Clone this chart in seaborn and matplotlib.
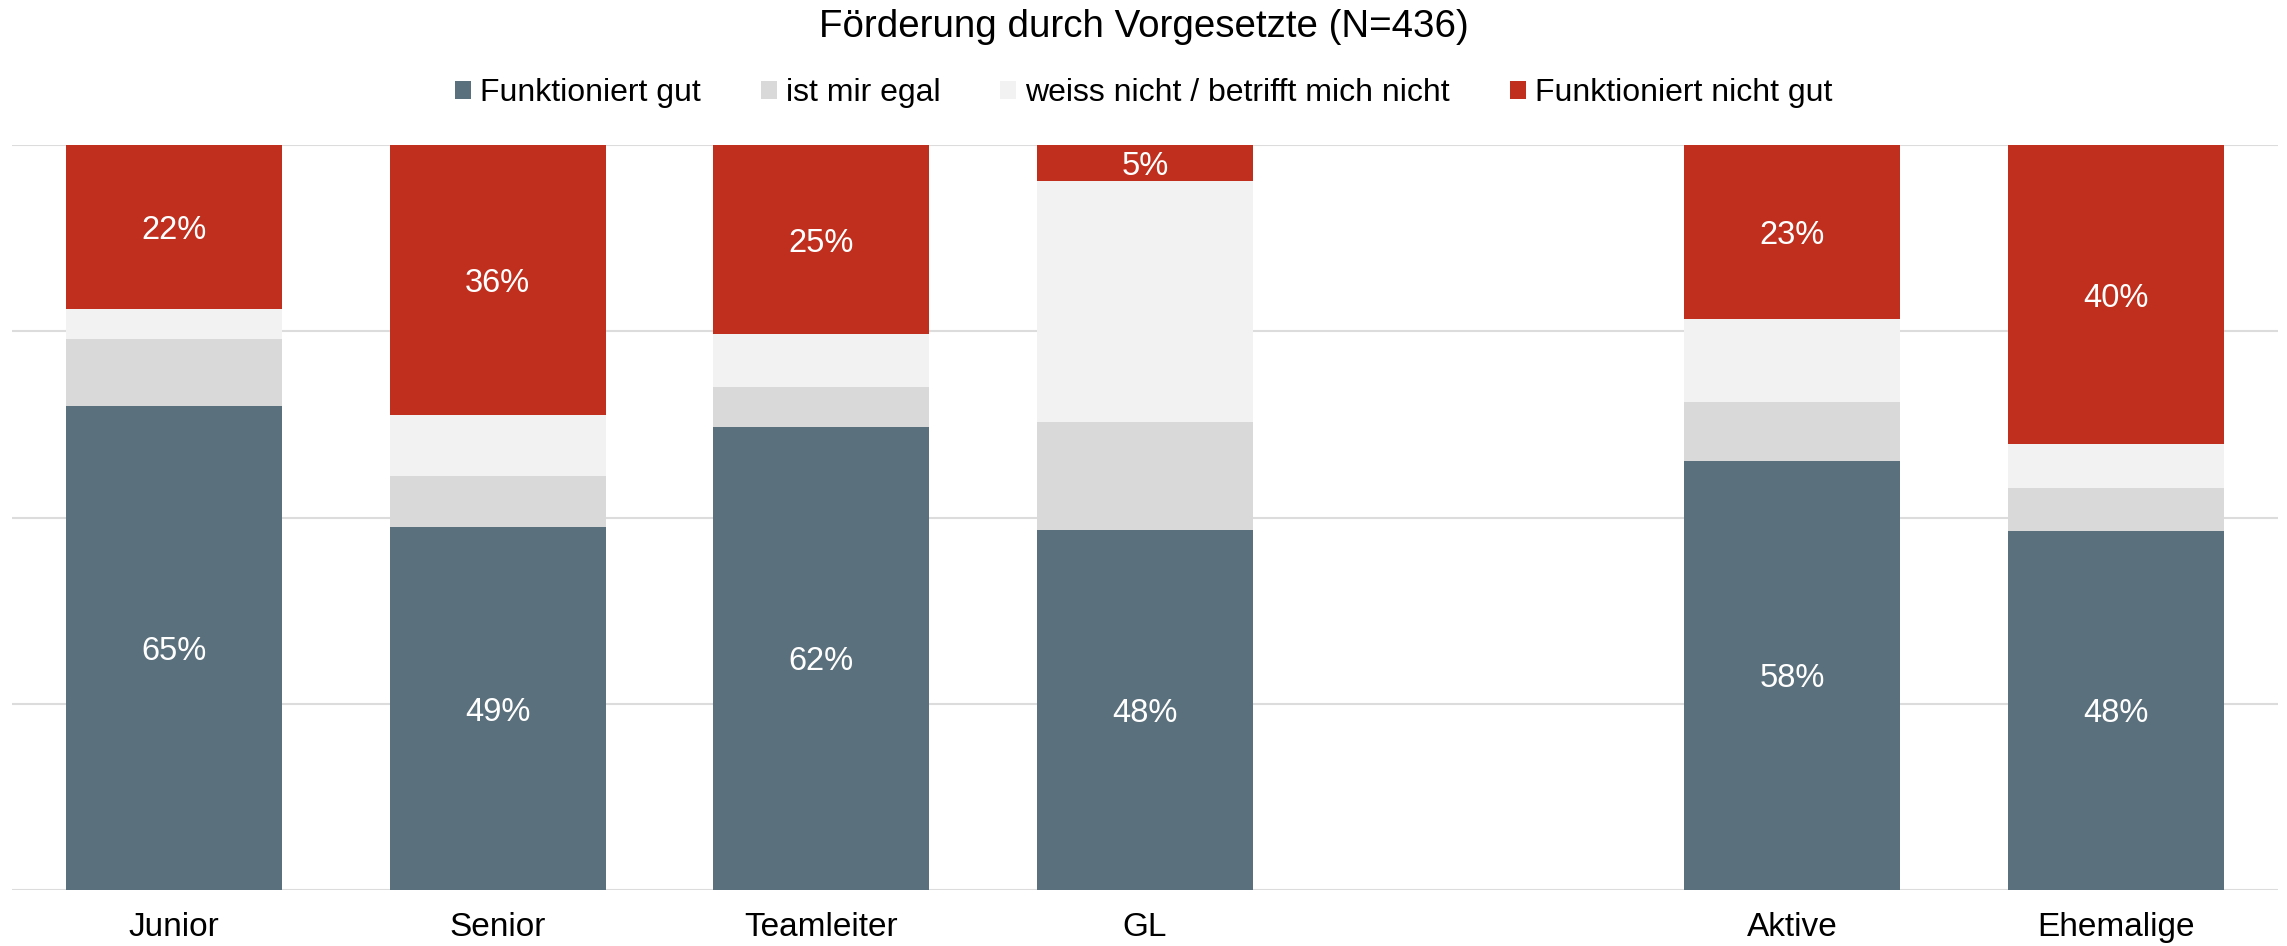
import numpy as np
import matplotlib
matplotlib.use("Agg")
import matplotlib.pyplot as plt
import seaborn as sns

# data (percent of respondents per group)
groups = ["Junior", "Senior", "Teamleiter", "GL", "", "Aktive", "Ehemalige"]
funktioniert_gut = [65.0, 48.7, 62.2, 48.3, 0, 57.6, 48.2]
egal = [9.0, 6.9, 5.3, 14.5, 0, 7.9, 5.8]
weiss_nicht = [4.0, 8.1, 7.1, 32.4, 0, 11.1, 5.8]
nicht_gut = [22.0, 36.3, 25.4, 4.9, 0, 23.4, 40.2]

series_names = ["Funktioniert gut", "ist mir egal",
                "weiss nicht / betrifft mich nicht", "Funktioniert nicht gut"]
series_colors = ["#5a707c", "#d9d9d9", "#f2f2f2", "#c02f1e"]
labelled = [True, False, False, True]

sns.set_style("white")
plt.rcParams["font.family"] = ["Liberation Sans", "DejaVu Sans"]
plt.rcParams["text.color"] = "black"

W, H = 2287, 946
fig = plt.figure(figsize=(W / 100, H / 100), dpi=100)
ax = fig.add_axes([12 / W, (H - 890) / H, 2266 / W, 745 / H])

bottom = np.zeros(len(groups))
for name, vals, col, lab in zip(series_names,
                                [funktioniert_gut, egal, weiss_nicht, nicht_gut],
                                series_colors, labelled):
    vals = np.array(vals, dtype=float)
    sns.barplot(x=groups, y=vals, bottom=bottom, color=col, saturation=1,
                width=0.667, linewidth=0, label=name, ax=ax, zorder=3)
    if lab:
        for i, v in enumerate(vals):
            if v > 0:
                ax.text(i, bottom[i] + v / 2, f"{v:.0f}%", color="white",
                        ha="center", va="center_baseline", fontsize=23.5, zorder=4)
    bottom += vals

ax.set_xlim(-0.5, len(groups) - 0.5)
ax.set_ylim(0, 100)
ax.set_yticks([0, 25, 50, 75, 100])
ax.set_yticklabels([])
ax.grid(axis="y", color="#dcdcdc", linewidth=1.5, zorder=0)
ax.set_axisbelow(True)
for s in ax.spines.values():
    s.set_visible(False)
ax.tick_params(axis="x", length=0, pad=16, labelsize=24, colors="black")
ax.tick_params(axis="y", length=0)
ax.set_xlabel("")
ax.set_ylabel("")

handles, labels = ax.get_legend_handles_labels()
if ax.get_legend() is not None:
    ax.get_legend().remove()
fig.legend(handles, labels, loc="center", bbox_to_anchor=(0.5, 1 - 93 / H),
           ncol=4, frameon=False, fontsize=23, labelcolor="black",
           handlelength=0.5, handleheight=0.5, handletextpad=0.28,
           columnspacing=1.88, borderaxespad=0, borderpad=0)

fig.text(0.5, 1 - 37 / H, "Förderung durch Vorgesetzte (N=436)",
         ha="center", va="baseline", fontsize=27.7, color="black")

fig.savefig("out.png", dpi=100)
